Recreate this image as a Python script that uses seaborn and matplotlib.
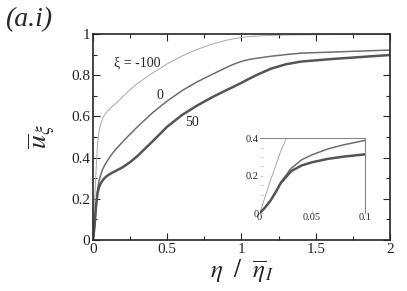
import numpy as np
import pandas as pd
import matplotlib
matplotlib.use("Agg")
from matplotlib import pyplot as plt
from matplotlib.ticker import MultipleLocator
import seaborn as sns

# eta / eta_I grid and velocity profiles
eta = [0, 0.005, 0.01, 0.015, 0.02, 0.03, 0.04, 0.05, 0.065, 0.08, 0.1, 0.125,
       0.15, 0.2, 0.25, 0.3, 0.4, 0.5, 0.6, 0.7, 0.8, 0.9, 0.95, 1.0, 1.05,
       1.1, 1.2, 1.3, 1.4, 1.6, 1.8, 2.0]
u_m100 = [0, 0.085, 0.17, 0.25, 0.33, 0.46, 0.525, 0.56, 0.59, 0.61, 0.628, 0.645,
          0.66, 0.695, 0.73, 0.76, 0.81, 0.855, 0.893, 0.925, 0.95, 0.97, 0.977, 0.983, 0.987,
          0.99, 0.993, 0.995, 0.996, 0.997, 0.998, 0.999]
u_0 = [0, 0.03, 0.065, 0.11, 0.165, 0.24, 0.285, 0.312, 0.343, 0.365, 0.388, 0.415,
       0.437, 0.477, 0.514, 0.55, 0.617, 0.675, 0.725, 0.767, 0.803, 0.838, 0.854, 0.867, 0.876,
       0.882, 0.892, 0.90, 0.907, 0.912, 0.917, 0.922]
u_50 = [0, 0.03, 0.065, 0.11, 0.16, 0.225, 0.255, 0.272, 0.29, 0.302, 0.314, 0.325,
        0.334, 0.353, 0.378, 0.408, 0.478, 0.55, 0.607, 0.652, 0.692, 0.728, 0.745, 0.763, 0.782,
        0.80, 0.832, 0.853, 0.866, 0.878, 0.888, 0.898]

xi_labels = ["\u03be = -100", "0", "50"]

df = pd.DataFrame({
    "eta": eta * 3,
    "u": u_m100 + u_0 + u_50,
    "xi": [xi_labels[0]] * len(eta) + [xi_labels[1]] * len(eta) + [xi_labels[2]] * len(eta),
})

sns.set_style("ticks")
plt.rcParams["font.family"] = ["Liberation Serif", "DejaVu Serif"]
plt.rcParams["mathtext.fontset"] = "stix"

colors = {xi_labels[0]: "#a8a8a8", xi_labels[1]: "#6e6e6e", xi_labels[2]: "#555555"}
widths = {xi_labels[0]: 0.7, xi_labels[1]: 1.1, xi_labels[2]: 1.8}

fig = plt.figure(figsize=(4.07, 2.91), dpi=100)
ax = fig.add_axes([0.2285, 0.1753, 0.7295, 0.7079])

for lab in xi_labels:
    sns.lineplot(data=df[df["xi"] == lab], x="eta", y="u", ax=ax,
                 color=colors[lab], lw=widths[lab], legend=False)

ax.set_xlim(0, 2)
ax.set_ylim(0, 1)
ax.xaxis.set_major_locator(MultipleLocator(0.5))
ax.xaxis.set_minor_locator(MultipleLocator(0.25))
ax.yaxis.set_major_locator(MultipleLocator(0.2))
ax.yaxis.set_minor_locator(MultipleLocator(0.1))
ax.xaxis.set_major_formatter(plt.FuncFormatter(lambda v, p: f"{v:g}"))
ax.yaxis.set_major_formatter(plt.FuncFormatter(lambda v, p: f"{v:g}"))
ax.tick_params(which="both", direction="in", top=True, right=True,
               labelsize=11, width=0.8, pad=2)
ax.tick_params(which="major", length=5)
ax.tick_params(which="minor", length=3)
for s in ax.spines.values():
    s.set_linewidth(1.2)

ax.set_xlabel(r"$\eta\ \ /\ \ \overline{\eta}_{I}$", fontsize=18, labelpad=1)
ax.set_ylabel(r"$\overline{u}_{\xi}$", fontsize=20, labelpad=10)

ax.text(0.14, 0.86, xi_labels[0], fontsize=10, ha="left", va="center")
ax.text(0.45, 0.70, xi_labels[1], fontsize=10, ha="center", va="center")
ax.text(0.67, 0.57, xi_labels[2], fontsize=10, ha="center", va="center")

fig.text(0.012, 0.975, "(a.i)", fontsize=20, style="italic", ha="left", va="top")

# inset zoom near the wall
ins = fig.add_axes([0.638, 0.267, 0.258, 0.258])
ins.patch.set_alpha(0)
for lab in xi_labels:
    sns.lineplot(data=df[df["xi"] == lab], x="eta", y="u", ax=ins,
                 color=colors[lab], lw=widths[lab], legend=False)
ins.set_xlim(0, 0.1)
ins.set_ylim(0, 0.4)
ins.set_xticks([0, 0.05, 0.1])
ins.set_yticks([0, 0.2, 0.4])
ins.set_xticklabels(["0", "0.05", "0.1"])
ins.set_yticklabels(["0", "0.2", "0.4"])
ins.yaxis.set_minor_locator(MultipleLocator(0.05))
ins.set_xlabel("")
ins.set_ylabel("")
ins.tick_params(which="both", direction="in", labelsize=7.5, length=2,
                width=0.5, color="#bbbbbb", pad=1)
ins.tick_params(axis="x", pad=0)
ins.spines["bottom"].set_visible(False)
ins.spines["left"].set_visible(False)
for side in ["top", "right"]:
    ins.spines[side].set_color("#888888")
    ins.spines[side].set_linewidth(0.8)

fig.savefig("out.png", dpi=100)
